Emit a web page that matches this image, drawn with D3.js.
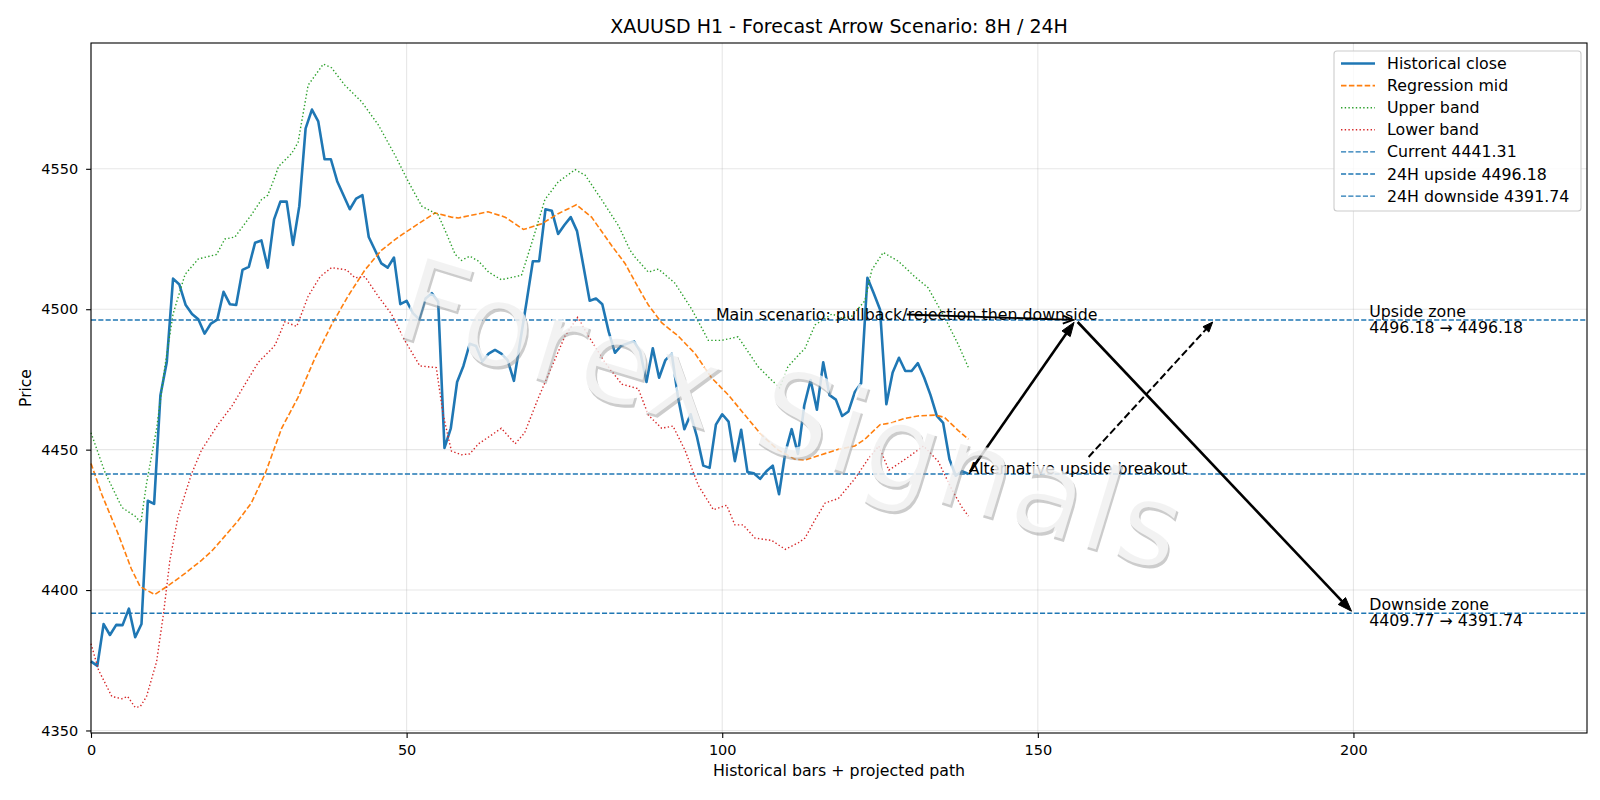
<!DOCTYPE html>
<html>
<head>
<meta charset="utf-8">
<script src="https://cdn.jsdelivr.net/npm/d3@7"></script>
<style>
  body { margin: 0; background: #fff; }
  text { font-family: "DejaVu Sans", sans-serif; }
</style>
</head>
<body>
<svg id="chart" width="1600" height="800"></svg>
<script>
// Historical close, one value per bar (bar 0 .. 139)
const closeValues = [
  4374.6, 4373.0, 4387.9, 4384.0, 4387.6, 4387.5, 4393.4, 4383.2, 4387.9, 4431.8,
  4430.7, 4469.4, 4481.1, 4510.9, 4508.8, 4501.5, 4498.3, 4496.4, 4491.3, 4494.9,
  4496.3, 4506.2, 4501.8, 4501.5, 4514.0, 4515.1, 4523.7, 4524.5, 4514.8, 4532.0,
  4538.3, 4538.3, 4522.9, 4536.7, 4564.4, 4571.1, 4566.9, 4553.4, 4553.4, 4545.6,
  4540.6, 4535.6, 4539.4, 4540.6, 4525.7, 4521.0, 4516.3, 4514.8, 4518.4, 4501.8,
  4503.0, 4498.6, 4496.4, 4503.8, 4505.7, 4502.7, 4450.6, 4457.6, 4474.1, 4479.8,
  4487.7, 4486.9, 4481.4, 4484.2, 4485.5, 4484.2, 4481.9, 4474.5, 4488.6, 4502.6,
  4517.1, 4517.1, 4535.6, 4535.1, 4526.8, 4530.0, 4532.8, 4527.8, 4515.5, 4503.0,
  4503.8, 4501.8, 4492.1, 4484.5, 4487.0, 4487.8, 4488.6, 4485.0, 4474.1, 4486.1,
  4475.6, 4481.9, 4484.2, 4468.6, 4457.3, 4462.6, 4454.5, 4444.3, 4443.5, 4458.9,
  4462.6, 4460.0, 4445.9, 4457.1, 4442.0, 4441.6, 4439.6, 4442.3, 4444.3, 4434.1,
  4449.0, 4457.3, 4448.5, 4465.8, 4474.8, 4464.2, 4481.1, 4469.4, 4467.8, 4462.0,
  4463.6, 4470.5, 4473.6, 4511.2, 4505.7, 4499.9, 4466.2, 4477.5, 4482.7, 4478.0,
  4478.0, 4480.8, 4475.6, 4469.4, 4462.0, 4459.5, 4446.6, 4440.7, 4442.3, 4441.31
];

// Regression mid, sampled along the curve
const midBars = [0, 1.7, 4.3, 6.4, 7.8, 10.1, 12.5, 14.9, 17.5, 19.1, 21.2, 23.3, 25.4, 27.6, 30.2,
  32.8, 35.5, 38.1, 40.7, 43.4, 46, 48.7, 51.3, 54.5, 57.1, 58.2, 62.9, 65.6, 68.5, 71.4, 74,
  76.9, 79.3, 82.5, 84.6, 86.7, 88.3, 90.4, 93, 95.7, 98.3, 101, 103.6, 106.2, 108.9, 111.5,
  113.1, 115.7, 118.4, 121, 122.6, 125, 126.8, 128.9, 131, 133.7, 135.2, 137.4, 139];
const midValues = [4445.1, 4434.1, 4420.0, 4407.5, 4401.2, 4398.4, 4402.0, 4405.9, 4410.6, 4413.8,
  4419.2, 4424.7, 4431.0, 4441.5, 4457.6, 4468.6, 4482.7, 4494.4, 4504.6, 4514.0, 4521.0, 4525.7,
  4529.6, 4534.3, 4532.8, 4532.5, 4534.7, 4532.8, 4528.4, 4530.4, 4534.0, 4537.2, 4532.8, 4522.6,
  4516.3, 4507.7, 4501.5, 4495.2, 4490.5, 4484.2, 4475.6, 4469.4, 4462.3, 4455.3, 4449.8, 4446.6,
  4446.3, 4448.2, 4450.1, 4451.3, 4453.7, 4458.9, 4459.5, 4461.1, 4462.0, 4462.3, 4461.5, 4456.8,
  4453.7];

// Upper band
const upperBars = [0, 2.2, 4.9, 7, 7.9, 8.8, 10.4, 11.7, 13, 14.9, 17, 19.9, 21.2, 22.8, 25.4, 27,
  28, 29.1, 29.7, 31.8, 32.8, 34.4, 36.8, 38.1, 40.2, 42.9, 45.5, 48.2, 50.3, 52.4, 55, 56.3,
  57.7, 58.7, 60, 61.4, 63, 65, 68.2, 69.8, 71.9, 74, 76.7, 78.3, 80.9, 83.6, 85.4, 86.2, 88.3,
  89.9, 92.5, 95.2, 97.8, 99.9, 102.5, 105.7, 107.8, 109.1, 110.4, 112.3, 113.1, 114.7, 117.4,
  119, 120.5, 122.6, 123.7, 125.5, 127.9, 130.5, 132.6, 135.3, 137.4, 139];
const upperValues = [4456.0, 4442.0, 4429.4, 4426.3, 4424.0, 4438.0, 4457.6, 4479.5, 4498.3, 4512.4,
  4517.9, 4519.5, 4525.0, 4525.7, 4533.6, 4539.0, 4540.6, 4546.9, 4550.8, 4555.5, 4559.4, 4579.8,
  4587.3, 4586.0, 4579.8, 4573.8, 4565.7, 4554.7, 4545.3, 4536.7, 4533.6, 4527.0, 4519.5, 4517.4,
  4518.9, 4517.1, 4513.2, 4510.5, 4512.1, 4523.4, 4539.0, 4545.3, 4549.7, 4547.7, 4539.0, 4529.6,
  4521.0, 4518.5, 4513.2, 4514.3, 4509.3, 4499.9, 4488.9, 4488.9, 4490.2, 4479.5, 4474.8, 4472.0,
  4479.5, 4484.2, 4486.0, 4494.4, 4498.3, 4496.8, 4497.5, 4503.0, 4514.0, 4520.2, 4517.1, 4511.6,
  4507.7, 4496.8, 4487.4, 4479.2];

// Lower band
const lowerBars = [0, 1.2, 3.3, 4.9, 5.8, 7, 7.8, 8.8, 10.4, 11.5, 12.5, 13.8, 15.9, 17.5, 20.2,
  22.3, 24.4, 26.5, 28.6, 29.2, 30.7, 32.6, 34.4, 36.3, 38.1, 40.5, 41.8, 43.4, 45.5, 47.6, 49.7,
  52.1, 54.7, 55.8, 57.1, 58.7, 60, 61.4, 63, 65, 67.2, 68.7, 70.9, 73, 75.1, 77.1, 78.8, 81.4,
  84.1, 86.7, 88.3, 90.4, 92.2, 94.1, 96.2, 98.6, 100.7, 102, 103.3, 105.2, 107.8, 110, 112.1,
  113.1, 114.7, 116.3, 118.4, 121, 123.1, 124.8, 126.4, 129, 131.9, 134.2, 136.4, 138, 139];
const lowerValues = [4380.9, 4371.5, 4362.1, 4361.3, 4362.1, 4358.2, 4358.5, 4362.1, 4374.6, 4391.8,
  4410.6, 4426.3, 4441.2, 4449.8, 4459.2, 4465.4, 4473.3, 4481.1, 4485.8, 4487.4, 4495.5, 4493.9,
  4504.6, 4511.6, 4514.8, 4514.0, 4511.2, 4511.6, 4504.6, 4498.3, 4488.9, 4479.8, 4479.2, 4462.3,
  4449.5, 4448.2, 4448.5, 4452.1, 4454.5, 4457.6, 4452.1, 4456.0, 4468.6, 4479.5, 4490.5, 4497.1,
  4490.5, 4481.1, 4473.3, 4471.7, 4462.3, 4457.6, 4458.4, 4449.8, 4437.3, 4428.6, 4430.2, 4423.2,
  4423.2, 4418.5, 4417.7, 4414.5, 4416.9, 4418.5, 4425.0, 4431.0, 4432.6, 4439.6, 4446.6, 4451.3,
  4442.7, 4446.6, 4451.3, 4445.9, 4435.7, 4429.4, 4426.3];

// Reference levels
const currentPrice = 4441.31;
const upsidePrice = 4496.18;
const downsidePrice = 4391.74;

// Scenario path (bar, price)
const mainPath = [[139, currentPrice], [156, upsidePrice], [200, downsidePrice]];
const altTarget = [178, upsidePrice];
const mainLabelAt = [99, upsidePrice];
const altLabelAt = [139, currentPrice];
const zoneLabelBar = 202.5;

const xTicks = [0, 50, 100, 150, 200];
const yTicks = [4350, 4400, 4450, 4500, 4550];
const legendLabels = ["Historical close", "Regression mid", "Upper band", "Lower band",
  "Current 4441.31", "24H upside 4496.18", "24H downside 4391.74"];

const blue = "#1f77b4", orange = "#ff7f0e", green = "#2ca02c", red = "#d62728";
const labelSize = "15.8px";

// Set dimensions and margins
const margin = { top: 43, right: 13, bottom: 67, left: 91 };
const width = 1600 - margin.left - margin.right;
const height = 800 - margin.top - margin.bottom;

const svg = d3.select("#chart");
const g = svg.append("g")
    .attr("transform", `translate(${margin.left},${margin.top})`);

// Scales
const x = d3.scaleLinear().domain([0, 237]).range([0, width]);
const y = d3.scaleLinear().domain([4349.1, 4594.8]).range([height, 0]);

// Grid
g.selectAll(".vgrid").data(xTicks).join("line")
    .attr("x1", d => x(d)).attr("x2", d => x(d))
    .attr("y1", 0).attr("y2", height)
    .attr("stroke", "#b0b0b0").attr("stroke-opacity", 0.3).attr("stroke-width", 1.1);
g.selectAll(".hgrid").data(yTicks).join("line")
    .attr("x1", 0).attr("x2", width)
    .attr("y1", d => y(d)).attr("y2", d => y(d))
    .attr("stroke", "#b0b0b0").attr("stroke-opacity", 0.3).attr("stroke-width", 1.1);

// Series
const line = d3.line().x(d => x(d[0])).y(d => y(d[1]));
const closePts = closeValues.map((v, i) => [i, v]);

g.append("path").datum(closePts)
    .attr("d", line).attr("fill", "none")
    .attr("stroke", blue).attr("stroke-width", 2.6).attr("stroke-linejoin", "round");
g.append("path").datum(d3.zip(midBars, midValues))
    .attr("d", line).attr("fill", "none")
    .attr("stroke", orange).attr("stroke-width", 1.6).attr("stroke-dasharray", "5.5,2.4");
g.append("path").datum(d3.zip(upperBars, upperValues))
    .attr("d", line).attr("fill", "none")
    .attr("stroke", green).attr("stroke-width", 1.4).attr("stroke-dasharray", "1.4,2.3");
g.append("path").datum(d3.zip(lowerBars, lowerValues))
    .attr("d", line).attr("fill", "none")
    .attr("stroke", red).attr("stroke-width", 1.4).attr("stroke-dasharray", "1.4,2.3");

// Horizontal levels
[currentPrice, upsidePrice, downsidePrice].forEach(p => {
  g.append("line")
      .attr("x1", 0).attr("x2", width)
      .attr("y1", y(p)).attr("y2", y(p))
      .attr("stroke", blue).attr("stroke-width", 1.4).attr("stroke-dasharray", "5.1,2.2");
});

// Arrow helpers
function unit(a, b) {
  const dx = b[0] - a[0], dy = b[1] - a[1], l = Math.hypot(dx, dy);
  return [dx / l, dy / l];
}
function head(tip, dir, len, hw, filled, sw) {
  const bx = tip[0] - dir[0] * len, by = tip[1] - dir[1] * len;
  const px = -dir[1] * hw, py = dir[0] * hw;
  if (filled) {
    g.append("path")
        .attr("d", `M${tip[0]},${tip[1]}L${bx + px},${by + py}L${bx - px},${by - py}Z`)
        .attr("fill", "black").attr("stroke", "black").attr("stroke-width", 1);
  } else {
    g.append("path")
        .attr("d", `M${bx + px},${by + py}L${tip[0]},${tip[1]}L${bx - px},${by - py}`)
        .attr("fill", "none").attr("stroke", "black").attr("stroke-width", sw);
  }
}
function arrow(p0, p1, opts) {
  const d = unit(p0, p1);
  const s = [p0[0] + d[0] * opts.shrinkA, p0[1] + d[1] * opts.shrinkA];
  const t = [p1[0] - d[0] * 2.8, p1[1] - d[1] * 2.8];
  const back = opts.filled ? opts.len * 0.8 : 0;
  g.append("line")
      .attr("x1", s[0]).attr("y1", s[1])
      .attr("x2", t[0] - d[0] * back).attr("y2", t[1] - d[1] * back)
      .attr("stroke", "black").attr("stroke-width", opts.sw)
      .attr("stroke-dasharray", opts.dash || null);
  head(t, d, opts.len, opts.hw, opts.filled, opts.sw);
}

// Main scenario path
const mp = mainPath.map(d => [x(d[0]), y(d[1])]);
arrow(mp[0], mp[1], { shrinkA: 2.8, sw: 2.6, len: 14, hw: 5, filled: true });
arrow(mp[1], mp[2], { shrinkA: 2.8, sw: 2.6, len: 14, hw: 5, filled: true });

// Annotation labels
const mainText = g.append("text")
    .attr("x", x(mainLabelAt[0])).attr("y", y(mainLabelAt[1]))
    .attr("font-size", labelSize).attr("fill", "black")
    .text("Main scenario: pullback/rejection then downside");
const mb = mainText.node().getBBox();
arrow([mb.x + mb.width / 2, mb.y + mb.height / 2], mp[1],
      { shrinkA: 0, sw: 1.9, len: 10, hw: 4, filled: false });

const altText = g.append("text")
    .attr("x", x(altLabelAt[0])).attr("y", y(altLabelAt[1]))
    .attr("font-size", labelSize).attr("fill", "black")
    .text("Alternative upside breakout");
const ab = altText.node().getBBox();
const ac = [ab.x + ab.width / 2, ab.y + ab.height / 2];
const at = [x(altTarget[0]), y(altTarget[1])];
const ad = unit(ac, at);
const clip = Math.min(ab.width / 2 / Math.abs(ad[0]), ab.height / 2 / Math.abs(ad[1]));
arrow(ac, at, { shrinkA: clip + 2.8, sw: 2.0, len: 10, hw: 4, filled: true, dash: "7.4,3.2" });

// Zone labels
function zoneLabel(price, l1, l2) {
  const t = g.append("text").attr("font-size", labelSize).attr("fill", "black");
  t.append("tspan").attr("x", x(zoneLabelBar)).attr("y", y(price) - 3).text(l1);
  t.append("tspan").attr("x", x(zoneLabelBar)).attr("y", y(price) + 13).text(l2);
}
zoneLabel(upsidePrice, "Upside zone", "4496.18 \u2192 4496.18");
zoneLabel(downsidePrice, "Downside zone", "4409.77 \u2192 4391.74");

// Watermark
const wm = g.append("g")
    .attr("transform", `translate(${792 - margin.left},${414 - margin.top}) rotate(17)`);
wm.append("text")
    .attr("x", 2.5).attr("y", 2.5)
    .attr("text-anchor", "middle").attr("dominant-baseline", "central")
    .attr("font-size", "117px").attr("letter-spacing", "3px")
    .attr("fill", "#9a9a9a").attr("fill-opacity", 0.5)
    .text("Forex Signals");
wm.append("text")
    .attr("text-anchor", "middle").attr("dominant-baseline", "central")
    .attr("font-size", "117px").attr("letter-spacing", "3px")
    .attr("fill", "#ffffff").attr("fill-opacity", 0.75)
    .text("Forex Signals");

// Axes
const xAxis = g.append("g")
    .attr("transform", `translate(0,${height})`)
    .call(d3.axisBottom(x).tickValues(xTicks).tickSize(4.9).tickPadding(7).tickFormat(d3.format("d")));
const yAxis = g.append("g")
    .call(d3.axisLeft(y).tickValues(yTicks).tickSize(4.9).tickPadding(8).tickFormat(d3.format("d")));
[xAxis, yAxis].forEach(a => {
  a.select(".domain").remove();
  a.selectAll("line").attr("stroke", "black").attr("stroke-width", 1.1);
  a.selectAll("text").attr("font-size", "14.5px").attr("fill", "black")
      .attr("font-family", "DejaVu Sans, sans-serif");
});

// Frame
g.append("rect")
    .attr("width", width).attr("height", height)
    .attr("fill", "none").attr("stroke", "black").attr("stroke-width", 1.1);

// Legend
const legend = g.append("g");
const lx = 1334 - margin.left, ly = 51 - margin.top;
legend.append("rect")
    .attr("x", lx).attr("y", ly).attr("width", 247).attr("height", 160)
    .attr("rx", 3).attr("fill", "white").attr("fill-opacity", 0.8)
    .attr("stroke", "#cccccc").attr("stroke-width", 1.1);
const legendStyles = [
  { c: blue, w: 2.6, dash: null },
  { c: orange, w: 1.6, dash: "5.5,2.4" },
  { c: green, w: 1.4, dash: "1.4,2.3" },
  { c: red, w: 1.4, dash: "1.4,2.3" },
  { c: blue, w: 1.4, dash: "5.1,2.2" },
  { c: blue, w: 1.4, dash: "5.1,2.2" },
  { c: blue, w: 1.4, dash: "5.1,2.2" }
];
legendLabels.forEach((lab, i) => {
  const cy = ly + 12.5 + i * 22.1;
  legend.append("line")
      .attr("x1", lx + 7).attr("x2", lx + 41).attr("y1", cy).attr("y2", cy)
      .attr("stroke", legendStyles[i].c).attr("stroke-width", legendStyles[i].w)
      .attr("stroke-dasharray", legendStyles[i].dash);
  legend.append("text")
      .attr("x", lx + 53).attr("y", cy).attr("dy", "0.35em")
      .attr("font-size", labelSize).attr("fill", "black")
      .text(lab);
});

// Title and axis labels
svg.append("text")
    .attr("x", margin.left + width / 2).attr("y", 33)
    .attr("text-anchor", "middle").attr("font-size", "19px").attr("fill", "black")
    .text("XAUUSD H1 - Forecast Arrow Scenario: 8H / 24H");
svg.append("text")
    .attr("x", margin.left + width / 2).attr("y", 776)
    .attr("text-anchor", "middle").attr("font-size", labelSize).attr("fill", "black")
    .text("Historical bars + projected path");
svg.append("text")
    .attr("transform", `translate(31,${margin.top + height / 2}) rotate(-90)`)
    .attr("text-anchor", "middle").attr("font-size", "15.5px").attr("fill", "black")
    .text("Price");
</script>
</body>
</html>
